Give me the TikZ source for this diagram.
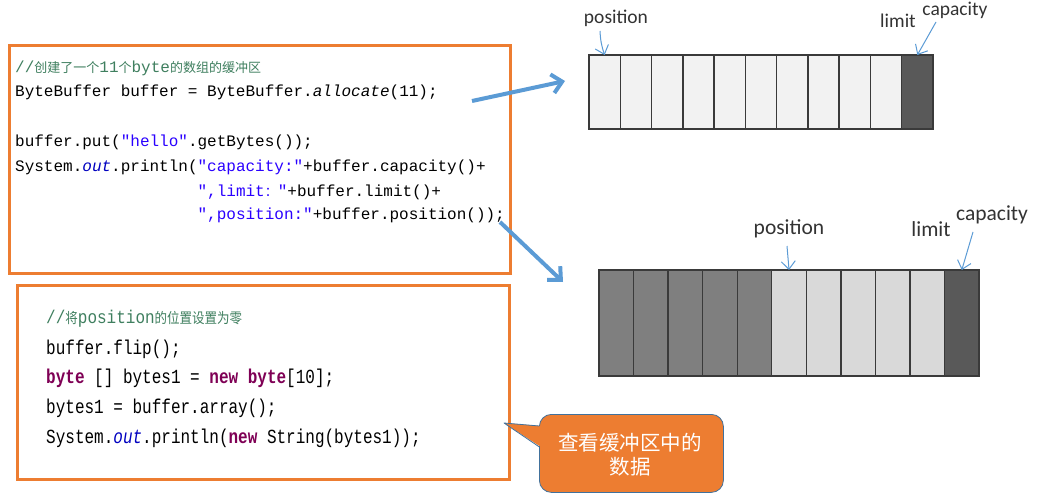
\documentclass[tikz,border=0pt]{standalone}
\usepackage{fontspec}
\setmonofont{Liberation Mono}
\newfontfamily\cjk{Noto Sans CJK SC}
\newfontfamily\lblfont{Carlito}
\usetikzlibrary{arrows.meta}
\definecolor{orng}{HTML}{ED7D31}
\definecolor{blu}{HTML}{5B9BD5}
\definecolor{cmt}{HTML}{3F7F5F}
\definecolor{strc}{HTML}{2A00FF}
\definecolor{kw}{HTML}{7F0055}
\definecolor{fld}{HTML}{0000C0}
\definecolor{lblc}{HTML}{333333}
\definecolor{cellline}{HTML}{3A3A3A}
\definecolor{cA}{HTML}{F2F2F2}
\definecolor{cB}{HTML}{7F7F7F}
\definecolor{cC}{HTML}{D9D9D9}
\definecolor{cD}{HTML}{595959}
\definecolor{callb}{HTML}{41719C}
\newcommand\cjkc[1]{{\cjk\fontsize{13}{13}\selectfont #1}}
\newcommand\cjkd[1]{{\cjk\fontsize{12.5}{13}\selectfont #1}}
\begin{document}
\begin{tikzpicture}[x=1pt,y=-1pt,
 codebox/.style={draw=orng, line width=3pt, inner sep=0pt, outer sep=0pt, anchor=north west},
 codeline/.style={anchor=base west, inner sep=0pt, font=\ttfamily\fontsize{16}{16}\selectfont},
 cell/.style={draw=cellline, line width=1.4pt, inner sep=0pt, outer sep=0pt},
 lbl/.style={inner sep=0pt, text=lblc, font=\lblfont\fontsize{19.5}{20}\selectfont},
 lblb/.style={inner sep=0pt, text=lblc, font=\lblfont\fontsize{21.5}{22}\selectfont},
 ptr/.style={draw=blu, line width=1pt, -{Straight Barb[length=8pt,width=14pt]}},
 big/.style={draw=blu, line width=4pt, -{Straight Barb[length=10pt,width=19pt]}},
]
\useasboundingbox (0,0) rectangle (1047,497);
\fill[white] (0,0) rectangle (1047,497);

% code box 1
\node[codebox, minimum width=501pt, minimum height=227pt] (box1) at (9,46) {};
\node[codeline, text=cmt] (l1) at (15,73) {//\cjkc{创建了一个}11\cjkc{个}byte\cjkc{的数组的缓冲区}};
\node[codeline] (l2) at (15,97) {ByteBuffer buffer = ByteBuffer.\textit{allocate}(11);};
\node[codeline] (l3) at (15,147) {buffer.put(\textcolor{strc}{"hello"}.getBytes());};
\node[codeline] (l4) at (15,172) {System.\textcolor{fld}{\textit{out}}.println(\textcolor{strc}{"capacity:"}+buffer.capacity()+};
\node[codeline] (l5) at (197.4,197) {\textcolor{strc}{",limit\cjkc{：}"}+buffer.limit()+};
\node[codeline] (l6) at (197.4,220) {\textcolor{strc}{",position:"}+buffer.position());};

% code box 2
\node[codebox, minimum width=492pt, minimum height=194pt] (box2) at (17,285) {};
\node[codeline, text=cmt] (m1) at (46,323) {\scalebox{1}[1.15]{//\cjkd{将}position\cjkd{的位置设置为零}}};
\node[codeline] (m2) at (46,354) {\scalebox{1}[1.25]{buffer.flip();}};
\node[codeline] (m3) at (46,383) {\scalebox{1}[1.25]{\textcolor{kw}{\textbf{byte}} [] bytes1 = \textcolor{kw}{\textbf{new}} \textcolor{kw}{\textbf{byte}}[10];}};
\node[codeline] (m4) at (46,413) {\scalebox{1}[1.25]{bytes1 = buffer.array();}};
\node[codeline] (m5) at (46,443) {\scalebox{1}[1.25]{System.\textcolor{fld}{\textit{out}}.println(\textcolor{kw}{\textbf{new}} String(bytes1));}};

% top array
\foreach \i in {1,...,10}
  \node[cell, fill=cA, minimum width=31.27pt, minimum height=74pt] (t\i) at ({589+(\i-0.5)*31.27},92) {};
\node[cell, fill=cD, minimum width=31.27pt, minimum height=74pt] (t11) at ({589+10.5*31.27},92) {};

% bottom array
\foreach \i in {1,...,5}
  \node[cell, fill=cB, minimum width=34.55pt, minimum height=106pt] (b\i) at ({599+(\i-0.5)*34.55},323) {};
\foreach \i in {6,...,10}
  \node[cell, fill=cC, minimum width=34.55pt, minimum height=106pt] (b\i) at ({599+(\i-0.5)*34.55},323) {};
\node[cell, fill=cD, minimum width=34.55pt, minimum height=106pt] (b11) at ({599+10.5*34.55},323) {};

% labels top
\node[lbl] (tpos) at (616,18) {position};
\node[lbl] (tlim) at (898,21) {limit};
\node[lbl] (tcap) at (955,10) {capacity};
\coordinate (tposA) at (600,31);
\coordinate (tcapA) at (936,22);
\draw[ptr] (tposA) to[bend right=8] (t1.north);
\draw[ptr] (tcapA) -- (t11.north);

% labels bottom
\node[lblb] (bpos) at (789,229) {position};
\node[lblb] (blim) at (931,229) {limit};
\node[lblb] (bcap) at (992,215) {capacity};
\coordinate (bposA) at (787,246);
\coordinate (bcapA) at (973,232);
\draw[ptr] (bposA) -- (b6.north);
\draw[ptr] (bcapA) -- (b11.north);

% big arrows
\coordinate (a1s) at (472,101);
\coordinate (a1e) at (565,81);
\coordinate (a2s) at (500,222);
\coordinate (a2e) at (563,282);
\draw[big] (a1s) -- (a1e);
\draw[big] (a2s) -- (a2e);

% callout
\node[draw=callb, line width=0.8pt, fill=orng, rounded corners=12pt, minimum width=184pt, minimum height=78pt, anchor=north west, inner sep=0pt] (note) at (539,414) {};
\coordinate (tip) at (504,423);
\fill[orng] (541,426) -- (tip) -- (541,447) -- cycle;
\draw[callb, line width=0.8pt, line join=round] (539.4,426) -- (tip) -- (539.4,447);
\node[text=white, align=center, inner sep=0pt, font=\cjk\fontsize{20.5}{24}\selectfont] (notetxt) at (630,455) {查看缓冲区中的\\数据};
\end{tikzpicture}
\end{document}
